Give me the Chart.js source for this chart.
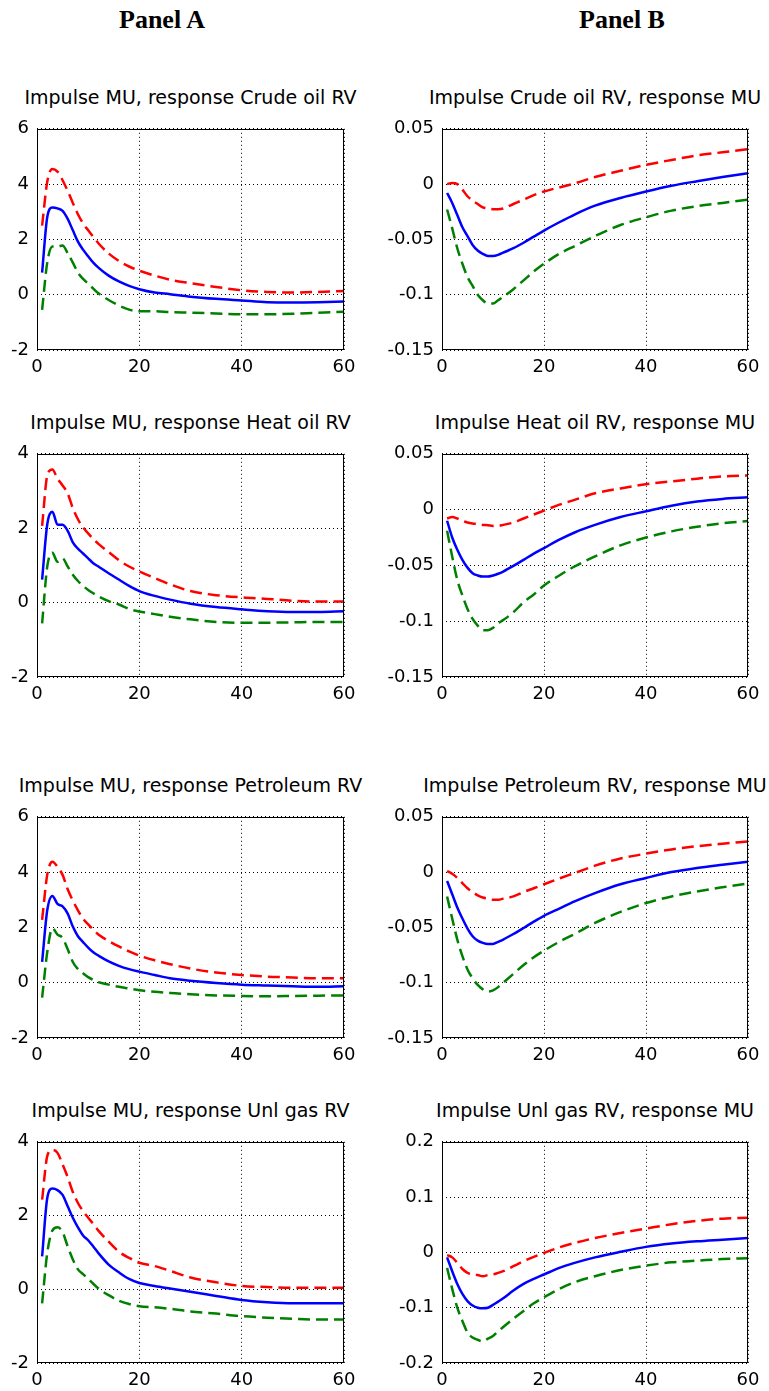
<!DOCTYPE html>
<html>
<head>
<meta charset="utf-8">
<title>Impulse responses</title>
<script src="https://cdn.jsdelivr.net/npm/chart.js@4.4.0/dist/chart.umd.min.js"></script>
<style>
  body { margin: 0; background: #fff; }
  #page { position: relative; width: 769px; height: 1391px; overflow: hidden; background: #fff; }
  .panel-head { position: absolute; top: 6px; width: 200px; text-align: center; font: bold 26px "Liberation Serif", "Times New Roman", serif; line-height: 28px; color: #000; }
  .plot-title { position: absolute; width: 440px; text-align: center; font: 19px "DejaVu Sans", sans-serif; line-height: 19px; color: #000; white-space: nowrap; }
  canvas { position: absolute; }
</style>
</head>
<body>
<div id="page"></div>
<script>
const horizon = [1, 2, 3, 4, 5, 6, 7, 8, 9, 10, 11, 12, 14, 16, 18, 20, 23, 26, 30, 35, 40, 45, 50, 55, 60];

// x axis ticks, shared by all plots
const xTicks = [0, 20, 40, 60];

// Panel A titles and y ticks
const titlesA = [
    "Impulse MU, response Crude oil RV",
    "Impulse MU, response Heat oil RV",
    "Impulse MU, response Petroleum RV",
    "Impulse MU, response Unl gas RV"
];
const yTicksA = [
    [-2, 0, 2, 4, 6],
    [-2, 0, 2, 4],
    [-2, 0, 2, 4, 6],
    [-2, 0, 2, 4]
];

// Panel B titles and y ticks
const titlesB = [
    "Impulse Crude oil RV, response MU",
    "Impulse Heat oil RV, response MU",
    "Impulse Petroleum RV, response MU",
    "Impulse Unl gas RV, response MU"
];
const yTicksB = [
    [-0.15, -0.1, -0.05, 0, 0.05],
    [-0.15, -0.1, -0.05, 0, 0.05],
    [-0.15, -0.1, -0.05, 0, 0.05],
    [-0.2, -0.1, 0, 0.1, 0.2]
];

// Panel A: impulse MU -> RV (median, upper band, lower band)
const crudeRvMid = [0.8, 2.8, 3.15, 3.12, 3.03, 2.74, 2.33, 1.92, 1.63, 1.39, 1.16, 0.98, 0.69, 0.48, 0.32, 0.2, 0.08, 0.02, -0.07, -0.15, -0.21, -0.27, -0.28, -0.27, -0.25];
const crudeRvUp = [2.5, 4.08, 4.55, 4.45, 4.14, 3.75, 3.32, 2.91, 2.58, 2.33, 2.09, 1.86, 1.49, 1.22, 1.02, 0.87, 0.69, 0.54, 0.42, 0.28, 0.16, 0.1, 0.08, 0.1, 0.13];
const crudeRvLo = [-0.55, 1.16, 1.74, 1.74, 1.78, 1.5, 1.16, 0.8, 0.57, 0.4, 0.22, 0.05, -0.19, -0.39, -0.54, -0.6, -0.6, -0.63, -0.65, -0.68, -0.71, -0.71, -0.69, -0.65, -0.62];

const heatRvMid = [0.62, 2.1, 2.44, 2.1, 2.09, 1.93, 1.62, 1.45, 1.32, 1.19, 1.06, 0.97, 0.79, 0.62, 0.45, 0.31, 0.18, 0.08, -0.03, -0.12, -0.18, -0.23, -0.25, -0.25, -0.23];
const heatRvUp = [2.06, 3.41, 3.58, 3.33, 3.15, 2.93, 2.54, 2.24, 2.02, 1.86, 1.71, 1.58, 1.36, 1.14, 0.97, 0.84, 0.66, 0.49, 0.31, 0.2, 0.14, 0.1, 0.05, 0.03, 0.03];
const heatRvLo = [-0.56, 0.97, 1.34, 1.1, 1.19, 0.97, 0.75, 0.58, 0.45, 0.34, 0.25, 0.17, 0.04, -0.05, -0.17, -0.24, -0.31, -0.38, -0.45, -0.52, -0.54, -0.54, -0.53, -0.52, -0.52];

const petroRvMid = [0.75, 2.62, 3.14, 2.85, 2.76, 2.5, 2.03, 1.68, 1.47, 1.27, 1.1, 0.98, 0.77, 0.61, 0.49, 0.4, 0.28, 0.16, 0.07, -0.01, -0.07, -0.1, -0.13, -0.15, -0.13];
const petroRvUp = [2.27, 3.9, 4.37, 4.19, 3.9, 3.38, 2.97, 2.62, 2.32, 2.11, 1.92, 1.74, 1.51, 1.31, 1.13, 0.98, 0.81, 0.67, 0.51, 0.37, 0.28, 0.22, 0.19, 0.16, 0.16];
const petroRvLo = [-0.54, 1.1, 1.97, 1.74, 1.62, 1.21, 0.75, 0.49, 0.34, 0.2, 0.1, 0.02, -0.07, -0.15, -0.21, -0.27, -0.33, -0.37, -0.42, -0.46, -0.48, -0.49, -0.48, -0.47, -0.46];

const gasRvMid = [0.89, 2.47, 2.73, 2.69, 2.56, 2.25, 1.94, 1.68, 1.46, 1.33, 1.16, 0.98, 0.67, 0.46, 0.28, 0.17, 0.09, 0.02, -0.07, -0.18, -0.29, -0.35, -0.38, -0.38, -0.38];
const gasRvUp = [2.43, 3.61, 3.78, 3.7, 3.39, 3.04, 2.64, 2.34, 2.12, 1.94, 1.77, 1.59, 1.29, 1.02, 0.85, 0.72, 0.63, 0.5, 0.32, 0.19, 0.09, 0.06, 0.04, 0.04, 0.04];
const gasRvLo = [-0.38, 0.98, 1.59, 1.68, 1.55, 1.16, 0.81, 0.54, 0.41, 0.28, 0.15, 0.02, -0.16, -0.31, -0.4, -0.46, -0.49, -0.53, -0.6, -0.66, -0.73, -0.77, -0.8, -0.82, -0.82];

// Panel B: impulse RV -> MU
const muCrudeMid = [-0.008, -0.017, -0.028, -0.039, -0.047, -0.055, -0.06, -0.063, -0.065, -0.065, -0.064, -0.062, -0.058, -0.053, -0.0475, -0.042, -0.0345, -0.0275, -0.0195, -0.0125, -0.0067, -0.0015, 0.0026, 0.0064, 0.0099];
const muCrudeUp = [0.0, 0.001, 0.0, -0.005, -0.011, -0.015, -0.018, -0.021, -0.022, -0.0227, -0.0227, -0.022, -0.018, -0.014, -0.01, -0.0067, -0.003, 0.0006, 0.0064, 0.012, 0.0174, 0.0218, 0.0259, 0.0288, 0.0317];
const muCrudeLo = [-0.023, -0.04, -0.058, -0.072, -0.084, -0.092, -0.1, -0.105, -0.108, -0.108, -0.105, -0.102, -0.095, -0.087, -0.079, -0.072, -0.063, -0.056, -0.047, -0.037, -0.03, -0.024, -0.02, -0.017, -0.014];

const muHeatMid = [-0.01, -0.025, -0.036, -0.045, -0.052, -0.057, -0.059, -0.06, -0.06, -0.059, -0.0575, -0.0555, -0.0505, -0.045, -0.0395, -0.0345, -0.027, -0.0205, -0.0137, -0.0067, -0.0015, 0.0035, 0.0073, 0.0096, 0.011];
const muHeatUp = [-0.008, -0.0067, -0.008, -0.01, -0.0116, -0.0125, -0.013, -0.0137, -0.014, -0.0146, -0.0146, -0.0137, -0.0116, -0.008, -0.0044, -0.0009, 0.0044, 0.0087, 0.0146, 0.019, 0.0227, 0.0253, 0.0277, 0.0297, 0.0306];
const muHeatLo = [-0.019, -0.042, -0.063, -0.077, -0.089, -0.098, -0.104, -0.108, -0.108, -0.106, -0.102, -0.099, -0.092, -0.083, -0.076, -0.068, -0.059, -0.051, -0.042, -0.032, -0.025, -0.0195, -0.0154, -0.0122, -0.0102];

const muPetroMid = [-0.008, -0.02, -0.032, -0.042, -0.051, -0.058, -0.062, -0.064, -0.065, -0.065, -0.063, -0.061, -0.056, -0.0505, -0.0448, -0.0395, -0.033, -0.0265, -0.019, -0.011, -0.0053, 0.0, 0.0038, 0.0067, 0.0094];
const muPetroUp = [0.001, -0.0015, -0.0053, -0.01, -0.0146, -0.018, -0.021, -0.023, -0.024, -0.025, -0.025, -0.024, -0.022, -0.018, -0.0146, -0.011, -0.0058, -0.0009, 0.0058, 0.0123, 0.0167, 0.0205, 0.0234, 0.0257, 0.0278];
const muPetroLo = [-0.022, -0.042, -0.061, -0.076, -0.088, -0.096, -0.102, -0.106, -0.108, -0.107, -0.104, -0.1, -0.092, -0.084, -0.077, -0.071, -0.063, -0.056, -0.046, -0.036, -0.028, -0.022, -0.0175, -0.0137, -0.0102];

const muGasMid = [-0.009, -0.034, -0.057, -0.075, -0.088, -0.096, -0.1, -0.101, -0.1, -0.095, -0.089, -0.083, -0.069, -0.057, -0.048, -0.04, -0.028, -0.019, -0.009, 0.001, 0.01, 0.016, 0.02, 0.023, 0.026];
const muGasUp = [-0.005, -0.009, -0.019, -0.03, -0.037, -0.04, -0.041, -0.043, -0.041, -0.04, -0.037, -0.034, -0.025, -0.016, -0.008, -0.001, 0.009, 0.017, 0.026, 0.035, 0.043, 0.051, 0.057, 0.061, 0.0625];
const muGasLo = [-0.028, -0.066, -0.1, -0.124, -0.145, -0.154, -0.158, -0.161, -0.156, -0.151, -0.143, -0.135, -0.12, -0.106, -0.092, -0.081, -0.066, -0.054, -0.043, -0.032, -0.024, -0.018, -0.015, -0.012, -0.0105];

// where the axes boxes sit on the page
const plotTop = [122, 447, 810, 1135];
const plotHeight = [228, 230, 228, 228];
const colLeft = [37, 442];
const colWidth = [307, 306];
const axisWidth = [37, 57];
const rightPad = [36, 21];

const page = document.getElementById("page");

// black box round the plot area, like matlab's "box on"
const frame = {
    id: "frame",
    afterDatasetsDraw(chart) {
        const { ctx, chartArea } = chart;
        ctx.save();
        ctx.strokeStyle = "#000";
        ctx.lineWidth = 1;
        ctx.strokeRect(Math.round(chartArea.left) + 0.5, Math.round(chartArea.top) + 0.5,
            Math.round(chartArea.width) - 1, Math.round(chartArea.height) - 1);
        ctx.restore();
    }
};

function toPoints(values) {
    return horizon.map((h, i) => ({ x: h, y: values[i] }));
}

function addPanel(col, row, title, yTicks, up, mid, lo) {
    const top = plotTop[row] - 12;
    const width = axisWidth[col] + colWidth[col] + rightPad[col];
    const height = 12 + plotHeight[row] + 35;

    // title as a normal text block centred over the axes
    const t = document.createElement("div");
    t.className = "plot-title";
    t.textContent = title;
    t.style.left = (colLeft[col] + colWidth[col] / 2 - 220) + "px";
    t.style.top = (plotTop[row] - 34) + "px";
    page.appendChild(t);

    const canvas = document.createElement("canvas");
    canvas.width = width;
    canvas.height = height;
    canvas.style.left = (colLeft[col] - axisWidth[col]) + "px";
    canvas.style.top = top + "px";
    page.appendChild(canvas);

    const yStep = yTicks[1] - yTicks[0];
    const tickFont = { family: "DejaVu Sans", size: 18 };
    const lineStyle = { borderWidth: 2.5, pointRadius: 0, cubicInterpolationMode: "monotone" };

    new Chart(canvas, {
        type: "line",
        data: {
            datasets: [
                { data: toPoints(up), borderColor: "#ff0000", borderDash: [12, 6], ...lineStyle },
                { data: toPoints(lo), borderColor: "#008000", borderDash: [12, 6], ...lineStyle },
                { data: toPoints(mid), borderColor: "#0000ff", ...lineStyle }
            ]
        },
        options: {
            responsive: false,
            animation: false,
            events: [],
            layout: { padding: { top: 12, right: rightPad[col], bottom: 0, left: 0 } },
            plugins: { legend: { display: false }, tooltip: { enabled: false } },
            scales: {
                x: {
                    type: "linear",
                    min: xTicks[0],
                    max: xTicks[xTicks.length - 1],
                    ticks: { stepSize: xTicks[1] - xTicks[0], font: tickFont, color: "#000", padding: 7, maxRotation: 0 },
                    grid: { color: "#000", lineWidth: 1, drawTicks: false },
                    border: { display: false, dash: [1, 3] },
                    afterFit: s => { s.height = 35; }
                },
                y: {
                    min: yTicks[0],
                    max: yTicks[yTicks.length - 1],
                    ticks: {
                        stepSize: yStep, font: tickFont, color: "#000", padding: 8,
                        callback: v => Number(v.toFixed(3))
                    },
                    grid: { color: "#000", lineWidth: 1, drawTicks: false },
                    border: { display: false, dash: [1, 3] },
                    afterFit: s => { s.width = axisWidth[col]; }
                }
            }
        },
        plugins: [frame]
    });
}

// panel headers
["Panel A", "Panel B"].forEach((txt, i) => {
    const h = document.createElement("div");
    h.className = "panel-head";
    h.textContent = txt;
    h.style.left = (i === 0 ? 62 : 522) + "px";
    page.appendChild(h);
});

addPanel(0, 0, titlesA[0], yTicksA[0], crudeRvUp, crudeRvMid, crudeRvLo);
addPanel(0, 1, titlesA[1], yTicksA[1], heatRvUp, heatRvMid, heatRvLo);
addPanel(0, 2, titlesA[2], yTicksA[2], petroRvUp, petroRvMid, petroRvLo);
addPanel(0, 3, titlesA[3], yTicksA[3], gasRvUp, gasRvMid, gasRvLo);

addPanel(1, 0, titlesB[0], yTicksB[0], muCrudeUp, muCrudeMid, muCrudeLo);
addPanel(1, 1, titlesB[1], yTicksB[1], muHeatUp, muHeatMid, muHeatLo);
addPanel(1, 2, titlesB[2], yTicksB[2], muPetroUp, muPetroMid, muPetroLo);
addPanel(1, 3, titlesB[3], yTicksB[3], muGasUp, muGasMid, muGasLo);
</script>
</body>
</html>
